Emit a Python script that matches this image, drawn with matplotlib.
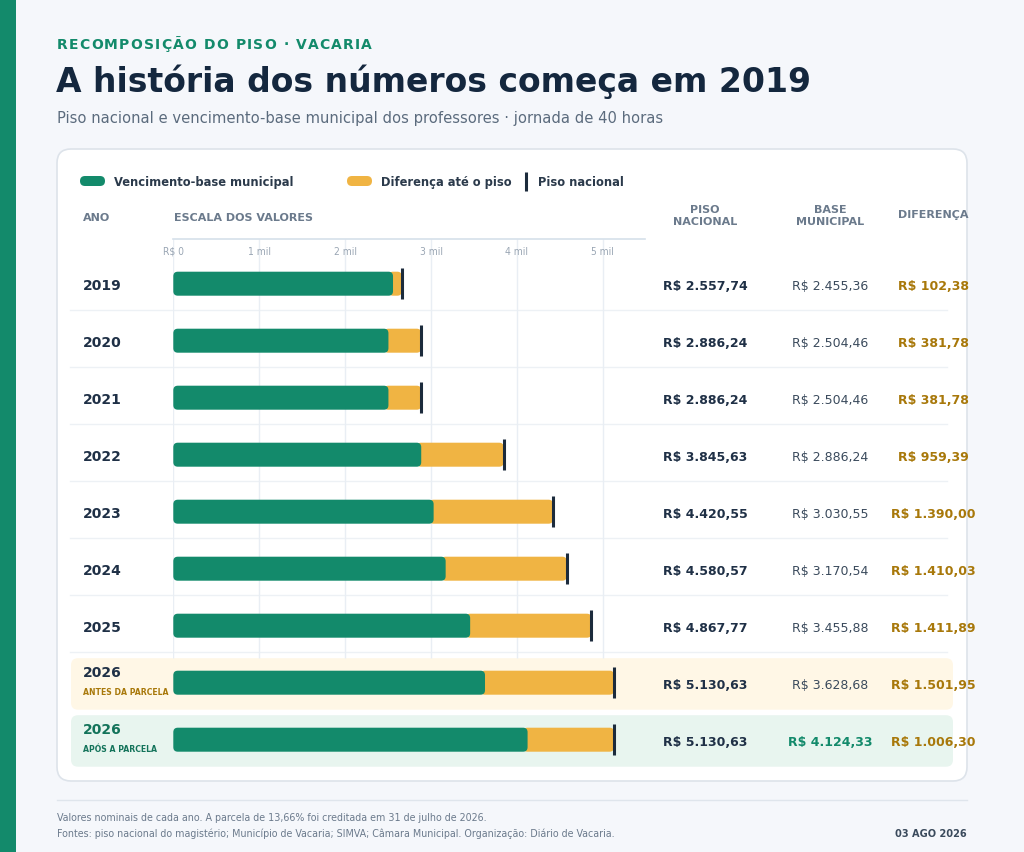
import matplotlib
matplotlib.use("Agg")
import matplotlib.pyplot as plt
from matplotlib.patches import FancyBboxPatch, Rectangle
from matplotlib.transforms import blended_transform_factory

# ---------------- data ----------------
anos = ['2019', '2020', '2021', '2022', '2023', '2024', '2025', '2026', '2026']
sub_rotulos = ['', '', '', '', '', '', '', 'ANTES DA PARCELA', 'APÓS A PARCELA']
piso = [2557.74, 2886.24, 2886.24, 3845.63, 4420.55, 4580.57, 4867.77, 5130.63, 5130.63]
base = [2455.36, 2504.46, 2504.46, 2886.24, 3030.55, 3170.54, 3455.88, 3628.68, 4124.33]
dif = [102.38, 381.78, 381.78, 959.39, 1390.00, 1410.03, 1411.89, 1501.95, 1006.30]
# bar segments as drawn in the reference (2019 green bar drawn at the piso value)
barra_base = [2557.74, 2504.46, 2504.46, 2886.24, 3030.55, 3170.54, 3455.88, 3628.68, 4124.33]
barra_dif = [102.38, 381.78, 381.78, 959.39, 1390.00, 1410.03, 1411.89, 1501.95, 1006.30]
ticks = [0, 1000, 2000, 3000, 4000, 5000]
tick_labels = ['R$ 0', '1 mil', '2 mil', '3 mil', '4 mil', '5 mil']

# ---------------- style ----------------
GREEN = '#138a6b'
ORANGE = '#f0b443'
NAVY = '#1c2b3c'
DARK = '#1f3046'
GOLD = '#a8780a'
GRAY = '#6b7a8c'
LIGHT = '#9aa6b4'
BG = '#f5f7fb'

W, H = 1024, 853
fig = plt.figure(figsize=(W / 100, H / 100), dpi=100, facecolor=BG)
renderer = fig.canvas.get_renderer()

bg = fig.add_axes([0, 0, 1, 1])
bg.set_xlim(0, W)
bg.set_ylim(H, 0)
bg.axis('off')
bg.set_zorder(0)

# left strip
bg.add_patch(Rectangle((0, 0), 16, H, color=GREEN, lw=0))
# card
bg.add_patch(FancyBboxPatch((57, 150), 910, 632, boxstyle="round,pad=0,rounding_size=14",
                            fc='white', ec='#dde3ea', lw=1.2))


def spaced_text(x, y, s, spacing, **kw):
    """Draw text with extra letter spacing (pixels)."""
    probe = bg.text(0, 0, '|', **kw)
    w_bar = probe.get_window_extent(renderer).width
    for i, ch in enumerate(s):
        probe.set_text(s[:i] + '|')
        w_full = probe.get_window_extent(renderer).width
        bg.text(x + (w_full - w_bar) + i * spacing, y, ch, **kw)
    probe.remove()


# header texts
spaced_text(57, 45, 'RECOMPOSIÇÃO DO PISO · VACARIA', 1.2, fontsize=10, fontweight='bold',
            color=GREEN, va='center', ha='left')
bg.text(56, 82, 'A história dos números começa em 2019', fontsize=23.8, fontweight='bold',
        color='#14273e', va='center', ha='left')
bg.text(57, 118, 'Piso nacional e vencimento-base municipal dos professores · jornada de 40 horas',
        fontsize=10.6, color='#5b6b7d', va='center', ha='left')

# legend
lkw = dict(fontsize=8.3, fontweight='bold', color='#2b3a4b', va='center')
bg.add_patch(FancyBboxPatch((80, 177), 25, 10, boxstyle="round,pad=0,rounding_size=5",
                            fc=GREEN, ec='none'))
bg.text(114, 182, 'Vencimento-base municipal', **lkw)
bg.add_patch(FancyBboxPatch((347, 177), 25, 10, boxstyle="round,pad=0,rounding_size=5",
                            fc=ORANGE, ec='none'))
bg.text(381, 182, 'Diferença até o piso', **lkw)
bg.plot([526, 526], [173, 192], color=NAVY, lw=2.2, solid_capstyle='butt')
bg.text(538, 182, 'Piso nacional', **lkw)

# column headers
hkw = dict(fontsize=8.0, fontweight='bold', color=GRAY, va='center')
bg.text(83, 218, 'ANO', ha='left', **hkw)
bg.text(174, 218, 'ESCALA DOS VALORES', ha='left', **hkw)
bg.text(705, 216, 'PISO\nNACIONAL', ha='center', linespacing=1.3, **hkw)
bg.text(830, 216, 'BASE\nMUNICIPAL', ha='center', linespacing=1.3, **hkw)
bg.text(933, 215, 'DIFERENÇA', ha='center', **hkw)

# footer
bg.plot([57, 967], [801, 801], color='#dfe5ec', lw=1)
fkw = dict(fontsize=7.65, color=GRAY, va='center', family='DejaVu Sans', stretch='condensed')
bg.text(57, 818, 'Valores nominais de cada ano. A parcela de 13,66% foi creditada em 31 de julho de 2026.',
        ha='left', **fkw)
bg.text(57, 834, 'Fontes: piso nacional do magistério; Município de Vacaria; SIMVA; Câmara Municipal. '
        'Organização: Diário de Vacaria.', ha='left', **fkw)
bg.text(967, 834, '03 AGO 2026', ha='right', fontsize=7.8, fontweight='bold', color='#3a4a5c',
        va='center', family='DejaVu Sans', stretch='condensed')

# ---------------- bar axes ----------------
X0, X1 = 173.3, 645.0
Y_TOP, Y_BOT = 240.0, 768.0
ROW0, PITCH = 284.7, 57.0
XMAX = (X1 - X0) / 85.9 * 1000

ax = fig.add_axes([X0 / W, 1 - Y_BOT / H, (X1 - X0) / W, (Y_BOT - Y_TOP) / H])
ax.set_zorder(2)
ax.patch.set_visible(False)
ax.set_xlim(0, XMAX)
ax.set_ylim((Y_BOT - ROW0) / PITCH, (Y_TOP - ROW0) / PITCH)
for s in ['bottom', 'left', 'right']:
    ax.spines[s].set_visible(False)
ax.spines['top'].set_color('#d6e0ea')
ax.spines['top'].set_linewidth(1.2)
ax.set_xticks([])
ax.set_yticks([])

n = len(anos)
mix_bg = blended_transform_factory(bg.transData, ax.transData)

# highlight boxes for the 2026 rows
box_cols = ['#fff7e6', '#e8f5ef']
for k, i in enumerate([n - 2, n - 1]):
    y0 = ROW0 + PITCH * i - 24.5
    bg.add_patch(FancyBboxPatch((71, y0), 882, 51.5, boxstyle="round,pad=0,rounding_size=7",
                                fc=box_cols[k], ec='none', zorder=1))

# gridlines
ax.vlines(ticks, (Y_TOP - ROW0) / PITCH, n - 2 - 0.43, color='#e9eef4', lw=1, zorder=0.5)
# tick labels
xt = ax.get_xaxis_transform()
for t, lab in zip(ticks, tick_labels):
    ax.text(t, 1 - 12 / (Y_BOT - Y_TOP), lab, transform=xt, ha='center', va='center',
            fontsize=7.4, color=LIGHT, family='DejaVu Sans', stretch='condensed')

# row separators
for i in range(n - 2):
    ax.plot([70, 947], [i + 0.47, i + 0.47], transform=mix_bg, color='#edf1f5', lw=1,
            clip_on=False, zorder=0.4)

# bars
px_x = XMAX / (X1 - X0)          # data units per pixel (x)
px_y = 1 / PITCH                 # data units per pixel (y)
asp = px_y / px_x
bh = 24 * px_y
r = 4.5 * px_x
for i in range(n):
    b = barra_base[i]
    d = barra_dif[i]
    ax.add_patch(FancyBboxPatch((b - r, i - bh / 2), d + r, bh,
                                boxstyle=f"round,pad=0,rounding_size={min(r, (d + r) / 2)}",
                                mutation_aspect=asp, fc=ORANGE, ec='none', zorder=2))
    ax.add_patch(FancyBboxPatch((0, i - bh / 2), b, bh,
                                boxstyle=f"round,pad=0,rounding_size={r}",
                                mutation_aspect=asp, fc=GREEN, ec='none', zorder=3))
    ax.plot([b + d, b + d], [i - 15.5 * px_y, i + 15.5 * px_y], color=NAVY, lw=2.2,
            solid_capstyle='butt', zorder=4)


def brl(v):
    s = f"{v:,.2f}"
    s = s.replace(',', 'X').replace('.', ',').replace('X', '.')
    return 'R$ ' + s


# row texts
for i in range(n):
    if sub_rotulos[i]:
        ax.text(83, i - 0.18, anos[i], transform=mix_bg, ha='left', va='center', fontsize=10,
                fontweight='bold', color=(DARK if i == n - 2 else '#13735a'), clip_on=False)
        ax.text(83, i + 0.15, sub_rotulos[i], transform=mix_bg, ha='left', va='center',
                fontsize=5.6, fontweight='bold', color=(GOLD if i == n - 2 else '#13735a'),
                clip_on=False)
    else:
        ax.text(83, i + 0.03, anos[i], transform=mix_bg, ha='left', va='center', fontsize=10,
                fontweight='bold', color=DARK, clip_on=False)
    ax.text(705, i + 0.03, brl(piso[i]), transform=mix_bg, ha='center', va='center',
            fontsize=9, fontweight='bold', color=DARK, clip_on=False)
    if i == n - 1:
        ax.text(830, i + 0.03, brl(base[i]), transform=mix_bg, ha='center', va='center',
                fontsize=9, fontweight='bold', color=GREEN, clip_on=False)
    else:
        ax.text(830, i + 0.03, brl(base[i]), transform=mix_bg, ha='center', va='center',
                fontsize=9, color='#3a4a5c', clip_on=False)
    ax.text(933, i + 0.03, brl(dif[i]), transform=mix_bg, ha='center', va='center',
            fontsize=9, fontweight='bold', color=GOLD, clip_on=False)

fig.savefig('out.png', dpi=100, facecolor=BG)
